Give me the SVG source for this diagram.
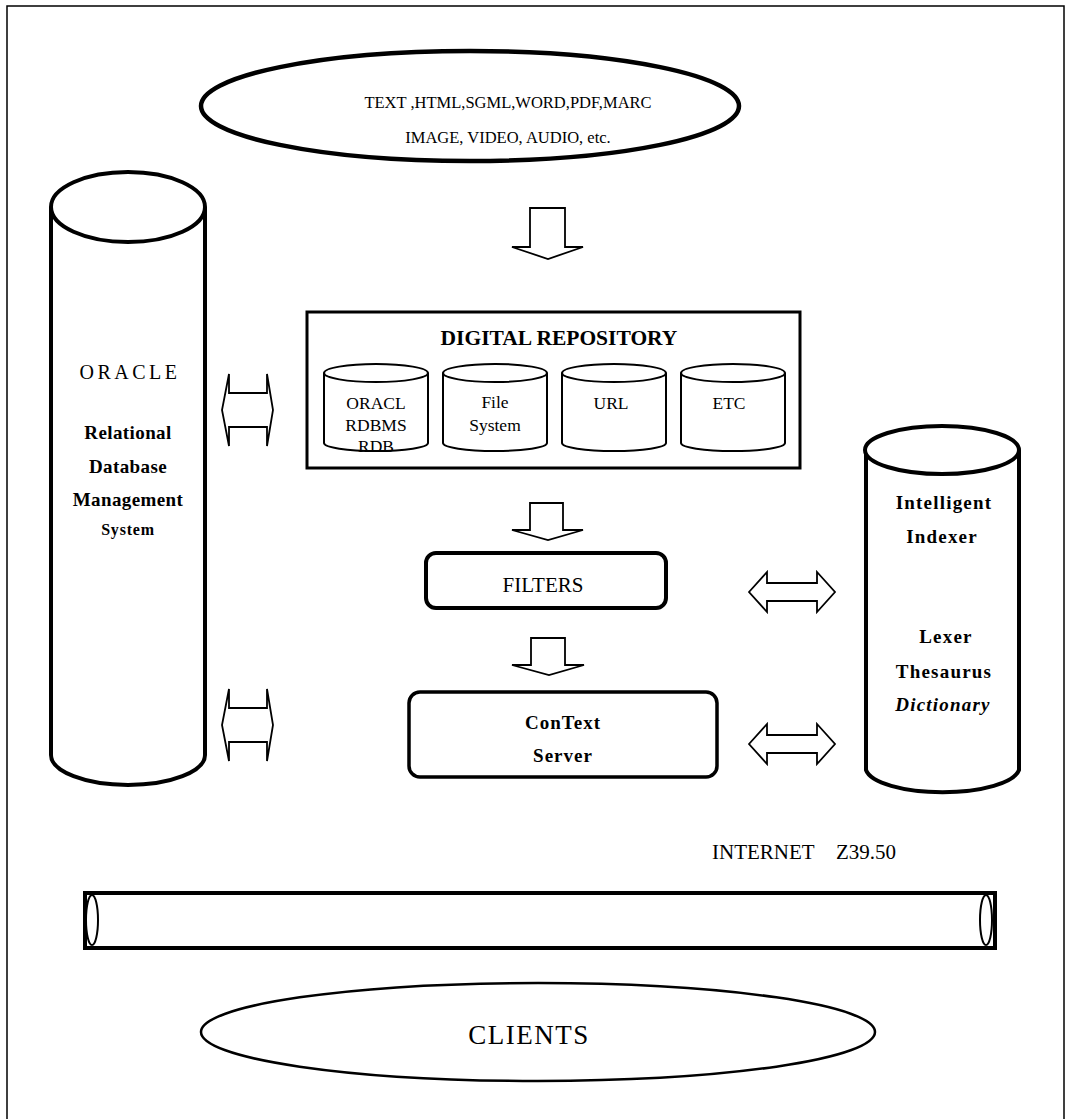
<svg xmlns="http://www.w3.org/2000/svg" width="1066" height="1119" viewBox="0 0 1066 1119">
<style>
  .t { font-family: "Liberation Serif", "Times New Roman", serif; fill: #000; text-anchor: middle; }
  .s { text-anchor: start; }
  .b { font-weight: bold; }
  .shape { fill: #fff; stroke: #000; }
  .arr { fill: #fff; stroke: #000; stroke-width: 1.8; stroke-linejoin: miter; }
  .cyl { fill: #fff; stroke: #000; stroke-width: 2; }
  .ct { font-size: 17.5px; }
  .rt { font-size: 19px; letter-spacing: 1.2px; }
</style>
<rect x="7" y="6" width="1057" height="1125" fill="#fff" stroke="#000" stroke-width="1.5"/>

<g id="sources">
  <ellipse cx="470" cy="106" rx="269" ry="55" class="shape" stroke-width="4.5"/>
  <text class="t" x="508" y="108" font-size="16.5">TEXT ,HTML,SGML,WORD,PDF,MARC</text>
  <text class="t" x="508" y="143" font-size="16.5">IMAGE, VIDEO, AUDIO, etc.</text>
</g>

<g id="oracle">
  <path class="shape" stroke-width="4" d="M51,207 V755 A77,30 0 0 0 205,755 V207"/>
  <ellipse cx="128" cy="207" rx="77" ry="35" class="shape" stroke-width="4"/>
  <text class="t" x="130" y="379" font-size="20" letter-spacing="3.5">ORACLE</text>
  <text class="t b" x="128" y="439" font-size="19" letter-spacing="0.4">Relational</text>
  <text class="t b" x="128" y="473" font-size="19" letter-spacing="0.4">Database</text>
  <text class="t b" x="128" y="506" font-size="19" letter-spacing="0.4">Management</text>
  <text class="t b" x="128" y="535" font-size="16" letter-spacing="0.8">System</text>
</g>

<g id="repository">
  <rect x="307" y="312" width="493" height="156" class="shape" stroke-width="3"/>
  <text class="t b" x="559" y="345" font-size="21.5">DIGITAL REPOSITORY</text>
  <g id="repo-oracl">
    <path class="cyl" d="M324,373 V443 A52,8 0 0 0 428,443 V373"/>
    <ellipse cx="376" cy="373" rx="52" ry="9" class="cyl"/>
    <text class="t ct" x="376" y="409">ORACL</text>
    <text class="t ct" x="376" y="431">RDBMS</text>
    <text class="t ct" x="376" y="452">RDB</text>
  </g>
  <g id="repo-file">
    <path class="cyl" d="M443,373 V443 A52,8 0 0 0 547,443 V373"/>
    <ellipse cx="495" cy="373" rx="52" ry="9" class="cyl"/>
    <text class="t ct" x="495" y="408">File</text>
    <text class="t ct" x="495" y="431">System</text>
  </g>
  <g id="repo-url">
    <path class="cyl" d="M562,373 V443 A52,8 0 0 0 666,443 V373"/>
    <ellipse cx="614" cy="373" rx="52" ry="9" class="cyl"/>
    <text class="t ct" x="611" y="409">URL</text>
  </g>
  <g id="repo-etc">
    <path class="cyl" d="M681,373 V443 A52,8 0 0 0 785,443 V373"/>
    <ellipse cx="733" cy="373" rx="52" ry="9" class="cyl"/>
    <text class="t ct" x="729" y="409">ETC</text>
  </g>
</g>

<g id="filters">
  <rect x="426" y="553" width="240" height="55" rx="10" class="shape" stroke-width="4"/>
  <text class="t" x="543" y="592" font-size="21">FILTERS</text>
</g>

<g id="context-server">
  <rect x="409" y="692" width="308" height="85" rx="11" class="shape" stroke-width="3.5"/>
  <text class="t b" x="563" y="729" font-size="19" letter-spacing="1">ConText</text>
  <text class="t b" x="563" y="762" font-size="19" letter-spacing="1">Server</text>
</g>

<g id="indexer">
  <path class="shape" stroke-width="4" d="M866,450 V770 A77,25 0 0 0 1019,770 V450"/>
  <ellipse cx="942" cy="450" rx="77" ry="24" class="shape" stroke-width="4"/>
  <text class="t b rt" x="944" y="509">Intelligent</text>
  <text class="t b rt" x="942" y="543">Indexer</text>
  <text class="t b rt" x="946" y="643" letter-spacing="2.5">Lexer</text>
  <text class="t b rt" x="944" y="678">Thesaurus</text>
  <text class="t b rt" x="943" y="711" font-style="italic">Dictionary</text>
</g>

<g id="internet">
  <text class="t s" y="859" font-size="21"><tspan x="712">INTERNET</tspan><tspan x="836">Z39.50</tspan></text>
  <rect x="85" y="893" width="910" height="55" class="shape" stroke-width="4"/>
  <ellipse cx="92" cy="920" rx="6" ry="25" class="shape" stroke-width="2"/>
  <ellipse cx="986" cy="920" rx="6" ry="25" class="shape" stroke-width="2"/>
</g>

<g id="clients">
  <ellipse cx="538" cy="1032" rx="337" ry="49" class="shape" stroke-width="2.5"/>
  <text class="t" x="529" y="1044" font-size="27" letter-spacing="1.5">CLIENTS</text>
</g>

<g id="connectors">
  <path class="arr" d="M530,208 H565 V247 H583 L548,259 L512,247 H530 Z"/>
  <path class="arr" d="M530,503 H563 V530 H583 L548,540 L512,530 H530 Z"/>
  <path class="arr" d="M531,638 H565 V665 H584 L549,675 L512,665 H531 Z"/>
  <path class="arr" d="M229,374 V393 H267 V374 L273,410 L267,446 V427 H229 V446 L222,410 Z"/>
  <path class="arr" d="M229,689 V708 H267 V689 L273,725 L267,761 V742 H229 V761 L222,725 Z"/>
  <path class="arr" d="M749,592 L767,572 V583 H817 V572 L835,592 L817,612 V601 H767 V612 Z"/>
  <path class="arr" d="M749,744 L767,724 V735 H817 V724 L835,744 L817,764 V753 H767 V764 Z"/>
</g>
</svg>
